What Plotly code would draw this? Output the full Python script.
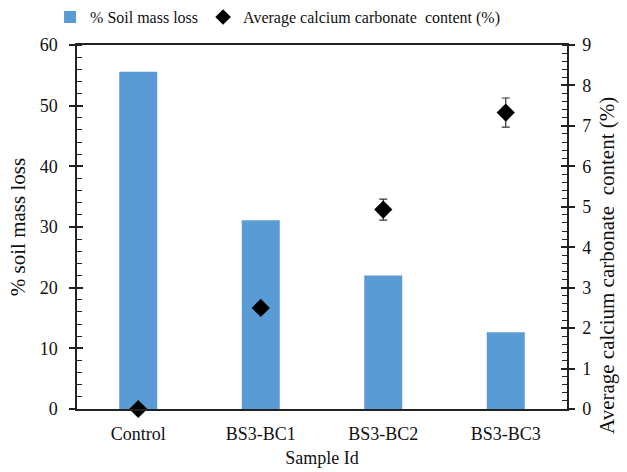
import plotly.graph_objects as go

samples = ["Control", "BS3-BC1", "BS3-BC2", "BS3-BC3"]
soil_mass_loss = [55.6, 31.1, 22.0, 12.65]
caco3_content = [0.0, 2.5, 4.93, 7.33]
caco3_error = [0.0, 0.0, 0.26, 0.36]

FONT = "Liberation Serif, Times New Roman, serif"
INK = "#111111"

fig = go.Figure()
fig.add_trace(go.Bar(
    x=samples, y=soil_mass_loss, name="% Soil mass loss",
    marker=dict(color="#5B9BD5", line=dict(width=0)), width=0.31,
    yaxis="y",
))
fig.add_trace(go.Scatter(
    x=samples, y=caco3_content, name="Average calcium carbonate  content (%)",
    mode="markers", yaxis="y2", cliponaxis=False,
    marker=dict(symbol="diamond", size=14, color="black"),
    error_y=dict(type="data", array=caco3_error, visible=True,
                 color="#333333", thickness=1.2, width=4),
))
# invisible helpers so the inward halves of the major ticks are drawn
fig.add_trace(go.Scatter(x=samples, y=[None]*4, yaxis="y3", showlegend=False, hoverinfo="skip"))
fig.add_trace(go.Scatter(x=samples, y=[None]*4, yaxis="y4", showlegend=False, hoverinfo="skip"))

axis_font = dict(family=FONT, size=18, color=INK)
title_font = dict(family=FONT, size=18, color=INK)
vtitle_font = dict(family=FONT, size=21, color=INK)

fig.update_layout(
    width=627, height=472,
    margin=dict(l=77, r=60, t=45, b=63, autoexpand=False),
    plot_bgcolor="white", paper_bgcolor="white",
    font=dict(family=FONT, size=16, color=INK),
    legend=dict(orientation="h", x=-0.055, xanchor="left", y=1.03, yanchor="bottom",
                font=dict(family=FONT, size=16, color=INK),
                itemsizing="constant",
                itemwidth=30, tracegroupgap=0, bgcolor="rgba(0,0,0,0)"),
    xaxis=dict(showline=True, linecolor="#222222", linewidth=1.5, mirror=True,
               ticks="", tickfont=axis_font, showgrid=False, ticklabelstandoff=8,
               title=dict(text="Sample Id", font=title_font, standoff=8)),
    yaxis=dict(range=[0, 60], dtick=10, showgrid=False, zeroline=False,
               showline=True, linecolor="#222222", linewidth=1.5,
               ticks="outside", ticklen=6, tickwidth=1.5, tickcolor="#222222",
               minor=dict(ticks="inside", dtick=2, ticklen=5, tickwidth=1.2, tickcolor="#222222"),
               tickfont=axis_font, ticklabelstandoff=8,
               title=dict(text="% soil mass loss", font=vtitle_font, standoff=8)),
    yaxis2=dict(range=[0, 9], dtick=1, showgrid=False, zeroline=False,
                overlaying="y", side="right",
                showline=True, linecolor="#222222", linewidth=1.5,
                ticks="outside", ticklen=6, tickwidth=1.5, tickcolor="#222222",
                minor=dict(ticks="inside", dtick=0.2, ticklen=5, tickwidth=1.2, tickcolor="#222222"),
                tickfont=axis_font, ticklabelstandoff=4),
    yaxis3=dict(range=[0, 60], dtick=10, overlaying="y", side="left", showgrid=False,
                zeroline=False, showline=False, showticklabels=False,
                ticks="inside", ticklen=6, tickwidth=1.5, tickcolor="#222222"),
    yaxis4=dict(range=[0, 9], dtick=1, overlaying="y", side="right", showgrid=False,
                zeroline=False, showline=False, showticklabels=False,
                ticks="inside", ticklen=6, tickwidth=1.5, tickcolor="#222222"),
    annotations=[dict(
        text="Average calcium carbonate  content (%)", textangle=-90,
        xref="paper", yref="paper", x=1.0, xshift=40, xanchor="center",
        y=0.393, yanchor="middle", showarrow=False, font=vtitle_font,
    )],
)

fig.write_html("out.html")
